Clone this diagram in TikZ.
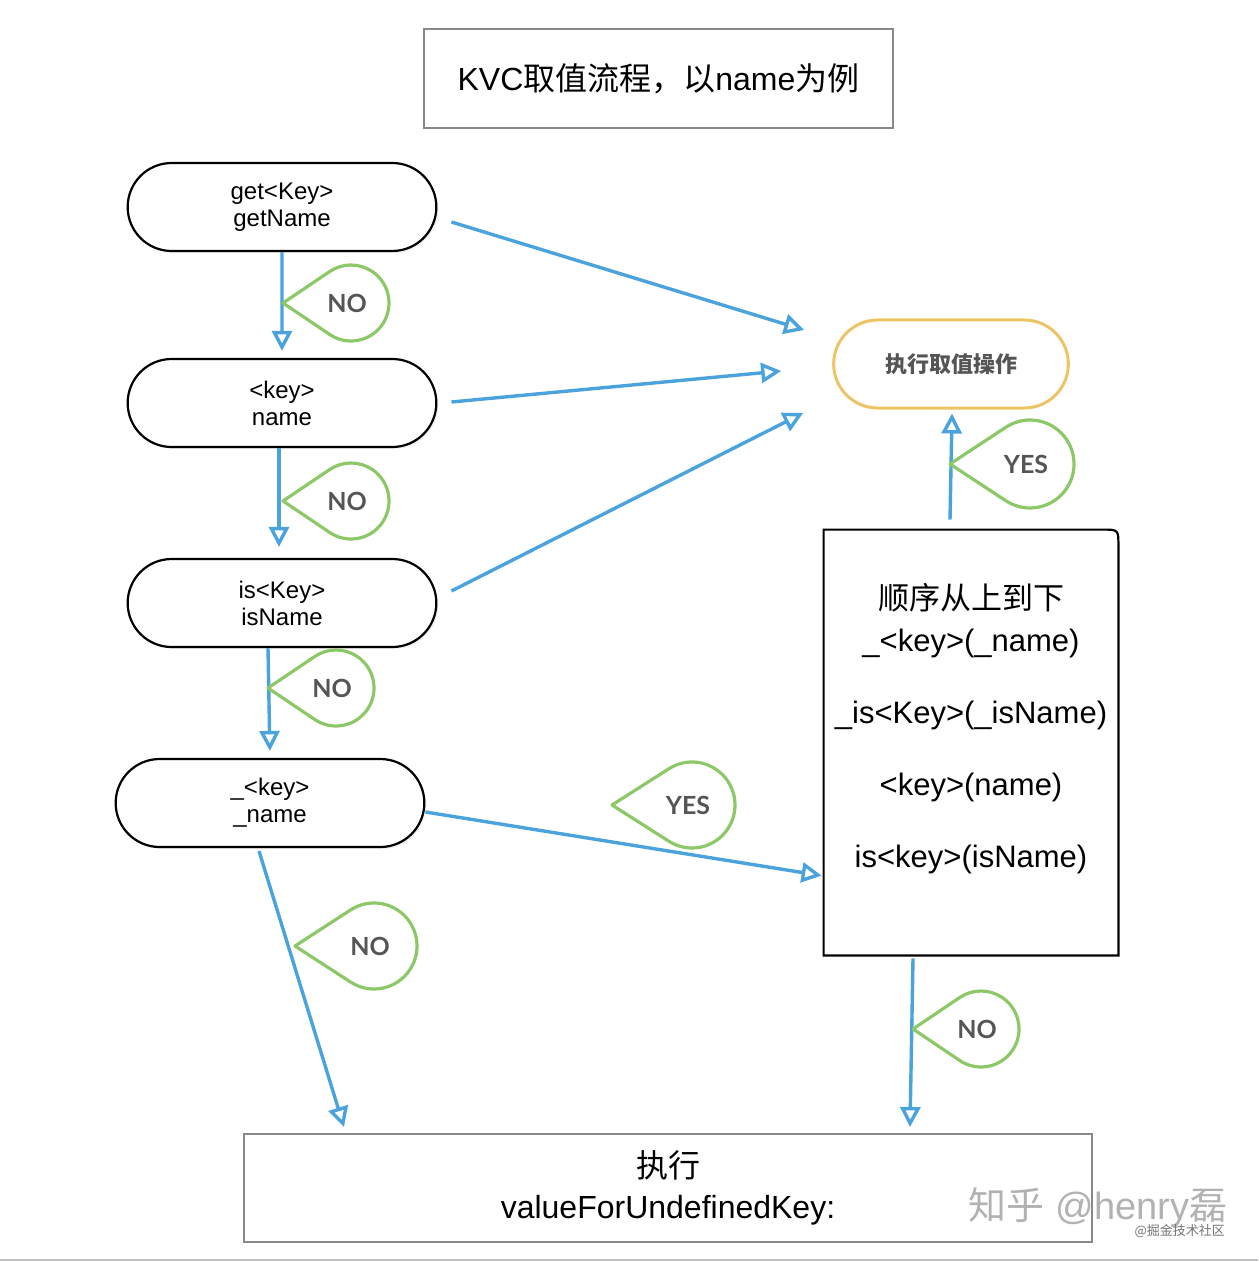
\documentclass[tikz,border=0pt]{standalone}
\usepackage{fontspec}
\setmainfont{Liberation Sans}
\newfontfamily\cjk{Noto Sans CJK SC}
\newfontfamily\lato{Lato}
\usetikzlibrary{arrows.meta,shapes.misc,calc,shadows}

\definecolor{flowblue}{HTML}{4BA3DD}
\definecolor{teargreen}{HTML}{8DC868}
\definecolor{actorange}{HTML}{EEC366}
\definecolor{labelgray}{HTML}{555555}
\definecolor{boxgray}{HTML}{888888}

\tikzset{
    stadium/.style={rounded rectangle, draw, line width=1.1pt, fill=white,
        minimum width=161pt, minimum height=44pt, align=center,
        font=\fontsize{12}{13.5}\selectfont,
        drop shadow={opacity=0.12, shadow xshift=1pt, shadow yshift=-1pt}},
    flow/.style={draw=flowblue, line width=1.7pt,
        -{Triangle[open, length=10pt, width=10pt]}},
    tearline/.style={draw=teargreen, line width=1.6pt, line join=round},
    teartext/.style={font=\lato\bfseries\fontsize{12.5}{14}\selectfont, text=labelgray},
}

% teardrop label: name, circle centre, radius, tip distance, text
\newcommand\tear[5]{%
    \coordinate (#1c) at (#2);
    \draw[tearline] ($(#1c)+(-#4,0)$) -- ($(#1c)+({180-acos(#3/#4)}:#3)$)
        arc[start angle={180-acos(#3/#4)}, end angle={acos(#3/#4)-180}, radius=#3] -- cycle;
    \node[teartext] (#1) at ($(#1c)+(-4,0)$) {#5};%
}

\begin{document}
\begin{tikzpicture}[x=0.5pt, y=-0.5pt]
    \useasboundingbox (0,0) rectangle (1258,1262);
    \draw[black!25, line width=1.2pt] (0,1260) -- (1258,1260);

    % title
    \node[draw=boxgray, line width=1pt, minimum width=234.5pt, minimum height=49.5pt,
        font=\fontsize{16}{19}\selectfont] (title) at (658.5,78.5)
        {KVC{\cjk 取值流程，以}name{\cjk 为例}};

    % lookup steps
    \node[stadium] (get) at (282,207) {get<Key>\\getName};
    \node[stadium] (nameN) at (282,403) {<key>\\name};
    \node[stadium] (isN) at (282,603) {is<Key>\\isName};
    \node[stadium] (uname) at (270,803) {\_<key>\\\_name};

    \node[rounded rectangle, draw=actorange, line width=1.5pt, minimum width=124pt,
        minimum height=44pt, font=\cjk\bfseries\fontsize{11}{13}\selectfont,
        text=labelgray] (act) at (951,364) {执行取值操作};

    % instance variables box
    \node[minimum width=147pt, minimum height=212.5pt, inner sep=0pt] (order) at (971,742.5) {};
    \draw[line width=1.1pt] (order.south west) -- (order.north west)
        -- ([xshift=-8pt]order.north east) .. controls (order.north east) .. ([yshift=-8pt]order.north east)
        -- (order.south east) -- cycle;
    \node[anchor=north, align=center, font=\fontsize{15.5}{18}\selectfont] (orderText)
        at ($(order.north)+(0,47)$)
        {{\cjk 顺序从上到下}\\[3pt]\_<key>(\_name)\\[18pt]\_is<Key>(\_isName)\\[18pt]<key>(name)\\[18pt]is<key>(isName)};

    \node[draw=boxgray, line width=1pt, minimum width=424pt, minimum height=54pt,
        align=center, font=\fontsize{16}{20.5}\selectfont] (undef) at (668,1188)
        {{\cjk 执行}\\valueForUndefinedKey:};

    % connectors
    \draw[flow, shorten >=3.5pt] (get) -- (nameN);
    \draw[flow, shorten >=5.5pt] ([xshift=-1.5pt]nameN.south) -- ([xshift=-1.5pt]isN.north);
    \draw[flow, shorten >=3.5pt] ([xshift=-7pt]isN.south) -- (uname.north);
    \draw[flow] ($(get.east)+(14,15)$) -- ($(act.west)+(-28,-34)$);
    \draw[flow] ($(nameN.east)+(14,-1)$) -- ($(act.west)+(-51,7)$);
    \draw[flow] ($(isN.east)+(14,-12)$) -- ($(act.west)+(-29,49)$);
    \draw[flow] ($(uname.east)+(0,9)$) -- ($(order.north west)+(-2,346)$);
    \draw[flow] ($(uname.south)+(-11,3)$) -- ($(undef.north west)+(101,-6)$);
    \draw[flow] ($(order.south)+(-58,3)$) -- ($(undef.north)+(242,-6)$);
    \draw[flow] ($(order.north)+(-21,-10)$) -- ($(act.south)+(1,4)$);

    % yes / no labels
    \tear{no1}{351,303}{38}{68}{NO}
    \tear{no2}{351,501}{38}{68}{NO}
    \tear{no3}{336,688}{38}{68}{NO}
    \tear{yes1}{1030,464}{44}{80}{YES}
    \tear{yes2}{692,805}{43}{80}{YES}
    \tear{no4}{374,946}{43}{79}{NO}
    \tear{no5}{981,1029}{38}{68}{NO}

    % watermark
    \node[text=black!30, font=\fontsize{19}{22}\selectfont] (mark) at (1098,1207)
        {{\cjk 知乎} @henry{\cjk 磊}};
    \node[text=black!55, font=\cjk\fontsize{6.5}{7}\selectfont, anchor=east] (markSmall)
        at (1232,1231) {@掘金技术社区};
\end{tikzpicture}
\end{document}
